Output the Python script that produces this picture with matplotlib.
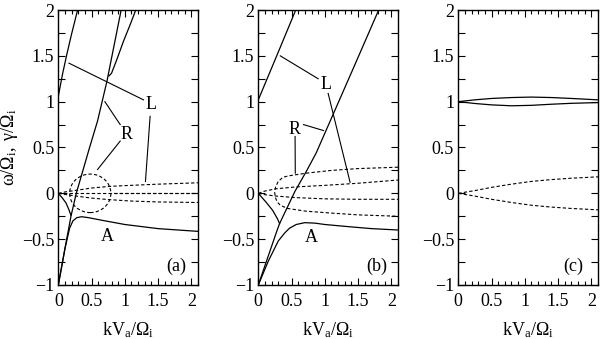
"""Dispersion curves for three cases (a), (b), (c)."""

import matplotlib.pyplot as plt
from matplotlib.patches import Ellipse
from matplotlib.ticker import FuncFormatter, MultipleLocator

plt.rcParams["font.family"] = ["Liberation Serif", "DejaVu Serif"]
plt.rcParams["mathtext.fontset"] = "custom"
plt.rcParams["mathtext.rm"] = "Liberation Serif"
plt.rcParams["mathtext.it"] = "Liberation Serif:italic"

# ---- panel (a): real frequency (solid) ----
a_L_k = [0.0, 0.063, 0.126, 0.2, 0.29]
a_L_w = [1.06, 1.3, 1.51, 1.74, 2.0]
a_L2_k = [0.76, 0.80, 0.88, 0.98, 1.08, 1.18]
a_L2_w = [1.28, 1.31, 1.46, 1.66, 1.84, 2.03]
a_R_k = [0.0, 0.126, 0.19, 0.27, 0.37, 0.47, 0.59, 0.73, 0.953]
a_R_w = [-1.0, -0.5, -0.25, 0.0, 0.25, 0.5, 0.79, 1.22, 2.03]
a_S_k = [0.0, 0.06, 0.116, 0.16, 0.19]
a_S_w = [0.0, -0.05, -0.106, -0.18, -0.24]
a_A_k = [0.0, 0.1, 0.17, 0.22, 0.28, 0.35, 0.45, 0.7, 1.0, 1.5, 2.1]
a_A_w = [-1.0, -0.6, -0.38, -0.3, -0.265, -0.255, -0.265, -0.3, -0.34, -0.385, -0.415]
# panel (a): growth rates (dashed)
a_g_k = [0.0, 0.1, 0.27, 0.5, 0.77, 1.09, 1.5, 2.1]
a_g_up = [0.0, 0.015, 0.033, 0.058, 0.076, 0.087, 0.1, 0.115]
a_g_mid = [0.0, 0.0, 0.0, 0.0, 0.0, 0.0, 0.0, 0.0]
a_g_lo = [0.0, -0.012, -0.03, -0.052, -0.069, -0.084, -0.094, -0.10]
a_g2_k = [0.79, 1.2, 1.6, 2.1]
a_g2_mid = [0.0, 0.0, 0.0, 0.0]

# ---- panel (b) ----
b_L_k = [0.0, 0.286, 0.577]
b_L_w = [1.02, 1.516, 2.025]
b_R_k = [0.0, 0.277, 0.32, 0.55, 0.73, 0.87, 1.13, 1.45, 1.81]
b_R_w = [-1.0, -0.415, -0.33, 0.02, 0.25, 0.44, 0.87, 1.4, 2.0]
b_S_k = [0.0, 0.115, 0.215, 0.29, 0.32]
b_S_w = [0.0, -0.095, -0.185, -0.28, -0.33]
b_A_k = [0.0, 0.15, 0.3, 0.4, 0.47, 0.57, 0.7, 0.85, 1.0, 1.3, 1.7, 2.1]
b_A_w = [-1.0, -0.74, -0.52, -0.43, -0.38, -0.34, -0.32, -0.325, -0.34, -0.36, -0.385, -0.40]
b_g_k = [0.0, 0.1, 0.27, 0.57, 1.0, 1.5, 2.1]
b_g_up = [0.0, 0.025, 0.05, 0.07, 0.087, 0.11, 0.145]
b_g_lo = [0.0, -0.015, -0.03, -0.047, -0.06, -0.065, -0.065]
b_gc_k = [2.1, 1.5, 1.1, 0.72, 0.45, 0.37, 0.3, 0.26, 0.245, 0.255, 0.28,
          0.33, 0.44, 0.72, 1.09, 1.5, 2.1]
b_gc_g = [0.285, 0.27, 0.25, 0.22, 0.19, 0.175, 0.13, 0.07, 0.015, -0.04,
          -0.09, -0.13, -0.165, -0.195, -0.215, -0.235, -0.25]

# ---- panel (c) ----
c_k = [0.0, 0.25, 0.5, 0.8, 1.1, 1.4, 1.7, 2.1]
c_w_up = [1.0, 1.02, 1.035, 1.045, 1.05, 1.045, 1.035, 1.02]
c_w_lo = [1.0, 0.98, 0.965, 0.955, 0.96, 0.972, 0.982, 0.99]
c_g_up = [0.0, 0.03, 0.065, 0.1, 0.13, 0.15, 0.165, 0.18]
c_g_lo = [0.0, -0.03, -0.065, -0.1, -0.13, -0.15, -0.165, -0.18]

panel_tags = ["(a)", "(b)", "(c)"]

FS = 13
DASH = (0, (3, 2))
LW = 0.9


def minus_fmt(v, _pos):
    return f"{v:g}".replace("-", "\u2212")


def style_axes(ax):
    ax.set_xlim(0, 2.1)
    ax.set_ylim(-1, 2)
    ax.xaxis.set_major_locator(MultipleLocator(0.5))
    ax.xaxis.set_minor_locator(MultipleLocator(0.1))
    ax.yaxis.set_major_locator(MultipleLocator(0.5))
    ax.yaxis.set_minor_locator(MultipleLocator(0.25))
    ax.xaxis.set_major_formatter(FuncFormatter(minus_fmt))
    ax.yaxis.set_major_formatter(FuncFormatter(minus_fmt))
    ax.tick_params(which="both", direction="in", top=True, right=True,
                   width=0.8, labelsize=FS, pad=3)
    ax.tick_params(axis="x", which="major", length=5, pad=6)
    ax.tick_params(axis="x", which="minor", length=3)
    ax.tick_params(axis="y", which="both", length=5)
    for sp in ax.spines.values():
        sp.set_linewidth(1.0)
    ax.set_xlabel(r"$\mathrm{kV_a/\Omega_i}$", fontsize=FS, labelpad=7)


def leader(ax, p0, p1):
    ax.plot([p0[0], p1[0]], [p0[1], p1[1]], color="black", lw=0.8)


fig = plt.figure(figsize=(6, 3.39), dpi=100)
axes = [fig.add_axes([x0, 0.1593, 0.2328, 0.8112]) for x0 in (0.0972, 0.4305, 0.7638)]

# (a)
ax = axes[0]
for k, w in [(a_L_k, a_L_w), (a_L2_k, a_L2_w), (a_R_k, a_R_w), (a_S_k, a_S_w), (a_A_k, a_A_w)]:
    ax.plot(k, w, color="black", lw=LW)
for g in (a_g_up, a_g_mid, a_g_lo):
    ax.plot(a_g_k, g, color="black", lw=0.8, linestyle=DASH)
ax.plot(a_g2_k, a_g2_mid, color="black", lw=0.8, linestyle=(2.5, (3, 2)))
ax.add_patch(Ellipse((0.48, 0.0), 0.62, 0.42, fill=False, color="black",
                     lw=0.8, linestyle=DASH))
ax.text(1.40, 0.97, "L", fontsize=FS, ha="center", va="center")
leader(ax, (1.28, 1.02), (0.16, 1.42))
leader(ax, (1.38, 0.84), (1.31, 0.13))
ax.text(1.03, 0.64, "R", fontsize=FS, ha="center", va="center")
leader(ax, (0.93, 0.75), (0.70, 1.0))
leader(ax, (0.93, 0.57), (0.59, 0.26))
ax.text(0.73, -0.47, "A", fontsize=FS, ha="center", va="center")
ax.set_ylabel(r"$\mathrm{\omega/\Omega_i,\ \gamma/\Omega_i}$", fontsize=FS, labelpad=1)

# (b)
ax = axes[1]
for k, w in [(b_L_k, b_L_w), (b_R_k, b_R_w), (b_S_k, b_S_w), (b_A_k, b_A_w)]:
    ax.plot(k, w, color="black", lw=LW)
for g in (b_g_up, b_g_lo):
    ax.plot(b_g_k, g, color="black", lw=0.8, linestyle=DASH)
ax.plot(b_gc_k, b_gc_g, color="black", lw=0.8, linestyle=DASH)
ax.text(1.02, 1.19, "L", fontsize=FS, ha="center", va="center")
leader(ax, (0.90, 1.25), (0.33, 1.50))
leader(ax, (1.05, 1.09), (1.38, 0.12))
ax.text(0.55, 0.70, "R", fontsize=FS, ha="center", va="center")
leader(ax, (0.68, 0.75), (0.98, 0.685))
leader(ax, (0.553, 0.62), (0.556, 0.22))
ax.text(0.79, -0.48, "A", fontsize=FS, ha="center", va="center")

# (c)
ax = axes[2]
for w in (c_w_up, c_w_lo):
    ax.plot(c_k, w, color="black", lw=LW)
for g in (c_g_up, c_g_lo):
    ax.plot(c_k, g, color="black", lw=0.8, linestyle=DASH)

for ax, tag, tx in zip(axes, panel_tags, (1.78, 1.78, 1.73)):
    style_axes(ax)
    ax.text(tx, -0.80, tag, fontsize=FS, ha="center", va="center")

fig.savefig("out.png", dpi=100)
